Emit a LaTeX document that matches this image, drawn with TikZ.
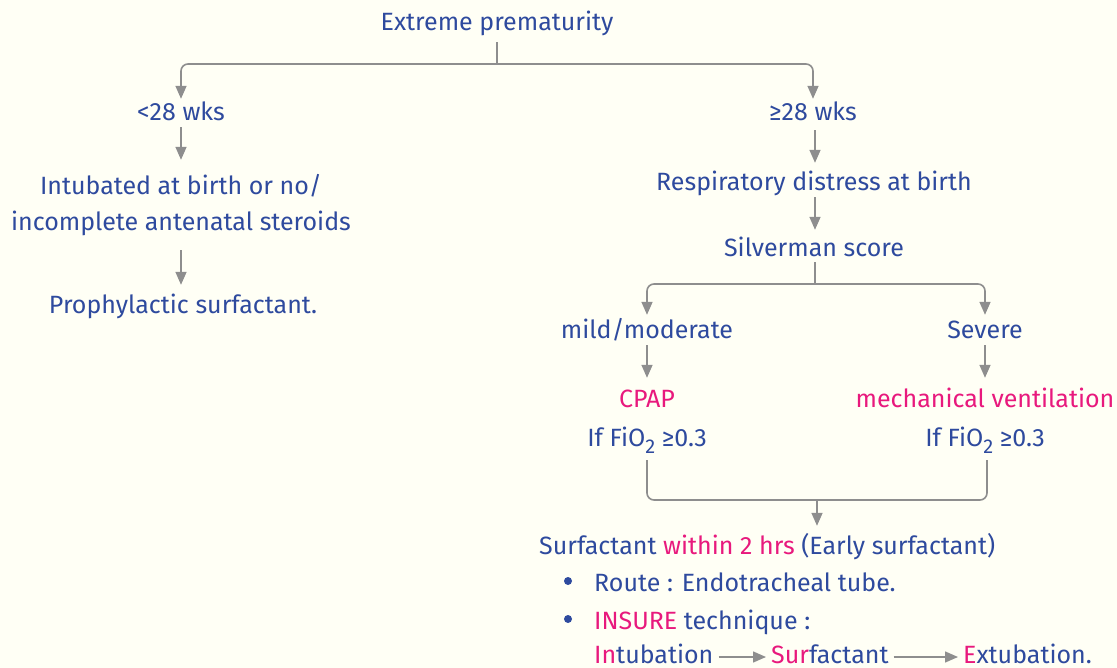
\documentclass[tikz,border=0pt]{standalone}
\usepackage{fontspec}
\setmainfont{Fira Sans}
\usetikzlibrary{positioning}
\usetikzlibrary{calc}
\usetikzlibrary{arrows.meta}
\definecolor{inkblue}{HTML}{2E4A9E}
\definecolor{inkpink}{HTML}{E8197D}
\definecolor{linegray}{HTML}{8E8E8E}
\definecolor{paper}{HTML}{FFFFF5}
\newcommand{\pk}[1]{\textcolor{inkpink}{#1}}
\newcommand{\fio}{If FiO\raisebox{-7pt}{\fontsize{20}{20}\selectfont 2} ≥0.3}

\begin{document}
\begin{tikzpicture}[x=1pt, y=-1pt,
		txt/.style={text=inkblue, font=\fontsize{25}{30}\selectfont, inner sep=1pt, text height=21pt, text depth=3pt},
		hl/.style={txt, text=inkpink},
		flow/.style={draw=linegray, line width=1.6pt, -{Triangle[length=13pt,width=11pt]}},
		branch/.style={draw=linegray, line width=1.6pt, rounded corners=7pt},
		dot/.style={circle, fill=inkblue, inner sep=0pt, minimum size=8pt}]
			% paper
			\fill[paper] (0,0) rectangle (1117,668);
			\useasboundingbox (0,0) rectangle (1117,668);
			% top
			\node[txt] (root) at (497,22) {Extreme prematurity};
			\node[txt] (lt) at (181,112) {<28 wks};
			\node[txt] (ge) at (813,112) {≥28 wks};
			\coordinate (split) at (497,64);
			\draw[branch, shorten <=7pt] (root.south) -- (split);
			\draw[branch, flow] (split) -| (lt.north);
			\draw[branch, flow] (split) -| (ge.north);
			% left branch
			\node[txt] (intub1) at (181,186) {Intubated at birth or no/};
			\node[txt] (intub2) at (181,222) {incomplete antenatal steroids};
			\node[txt] (proph) at (183,305) {Prophylactic surfactant.};
			\draw[flow, shorten <=2pt, shorten >=13pt] (lt.south) -- (lt.south |- intub1.north);
			\draw[flow, shorten <=15pt, shorten >=7pt] (intub2.south -| lt.south) -- (lt.south |- proph.north);
			% right branch
			\node[txt] (resp) at (814,182) {Respiratory distress at birth};
			\node[txt] (silv) at (814,248) {Silverman score};
			\draw[flow, shorten <=5pt, shorten >=6pt] ([xshift=2pt]ge.south) -- ([xshift=2pt]ge.south |- resp.north);
			\draw[flow, shorten <=2pt, shorten >=5pt] ([xshift=2pt]ge.south |- resp.south) -- ([xshift=2pt]ge.south |- silv.north);
			\node[txt] (mild) at (647,330) {mild/moderate};
			\node[txt] (sev) at (985,330) {Severe};
			\coordinate (split2) at (815,284);
			\draw[branch, shorten <=1pt] (split2 |- silv.south) -- (split2);
			\draw[branch, flow, shorten >=2pt] (split2) -| (mild.north);
			\draw[branch, flow, shorten >=2pt] (split2) -| (sev.north);
			\node[hl] (cpap) at (647,398) {CPAP};
			\node[txt] (fio1) at (647,437) {\fio};
			\node[hl] (mech) at (985,398) {mechanical ventilation};
			\node[txt] (fio2) at (985,437) {\fio};
			\draw[flow, shorten <=2pt, shorten >=7pt] (mild.south) -- (cpap.north);
			\draw[flow, shorten <=2pt, shorten >=7pt] (sev.south) -- (mech.north);
			% join
			\node[txt, anchor=west] (surf) at (538,545) {Surfactant \pk{within 2 hrs} (Early surfactant)};
			\coordinate (jl) at (647,500);
			\coordinate (jr) at (987,500);
			\coordinate (jm) at (817,500);
			\draw[branch] ([yshift=-10pt]fio1.south) -- (jl) -- (jr) -- ([xshift=2pt,yshift=-10pt]fio2.south);
			\draw[flow, shorten >=6pt] (jm) -- (jm |- surf.north);
			% notes
			\node[dot] (b1) at (568,581) {};
			\node[txt, anchor=west] (route) at (593,582) {Route : Endotracheal tube.};
			\node[dot] (b2) at (568,619) {};
			\node[txt, anchor=west] (insure) at (593,620) {\pk{INSURE} technique :};
			\node[txt, anchor=west] (intb) at (593,654) {\pk{In}tubation};
			\node[txt, anchor=west] (sfc) at (770,654) {\pk{Sur}factant};
			\node[txt, anchor=west] (extb) at (962,654) {\pk{E}xtubation.};
			\draw[flow, line width=1.4pt] ([xshift=4pt,yshift=-3pt]intb.east) -- ([xshift=-4pt,yshift=-3pt]sfc.west);
			\draw[flow, line width=1.4pt] ([xshift=4pt,yshift=-3pt]sfc.east) -- ([xshift=-4pt,yshift=-3pt]extb.west);
		\end{tikzpicture}
\end{document}
